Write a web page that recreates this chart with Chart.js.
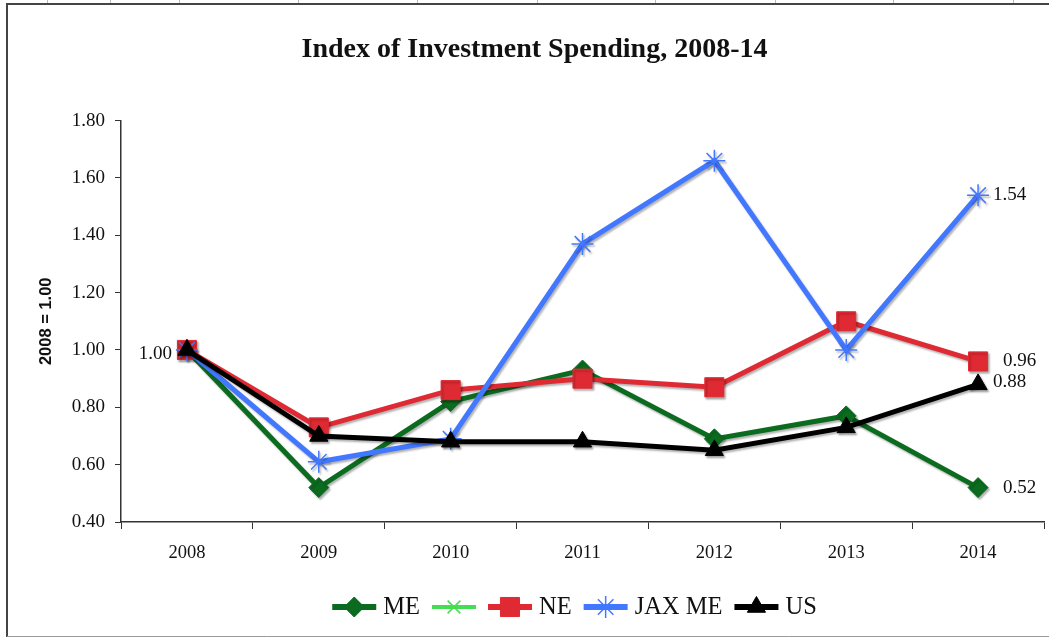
<!DOCTYPE html>
<html>
<head>
<meta charset="utf-8">
<title>Index of Investment Spending, 2008-14</title>
<script src="https://cdn.jsdelivr.net/npm/chart.js@4.4.1/dist/chart.umd.min.js"></script>
<style>
  html, body { margin: 0; padding: 0; background: #fff; }
  canvas { display: block; }
</style>
</head>
<body>
<canvas id="line-chart" width="1049" height="638"></canvas>
<script>
// data
const years = ['2008', '2009', '2010', '2011', '2012', '2013', '2014'];
const me_values  = [1.00, 0.52, 0.82, 0.93, 0.69, 0.77, 0.52];
const me2_values = [null, null, null, null, null, null, null]; // only shows up in the legend
const ne_values  = [1.00, 0.73, 0.86, 0.90, 0.87, 1.10, 0.96];
const jax_values = [1.00, 0.61, 0.69, 1.37, 1.66, 1.00, 1.54];
const us_values  = [1.00, 0.70, 0.68, 0.68, 0.65, 0.73, 0.88];
const yMin = 0.40, yMax = 1.80, yStep = 0.20;

const serif = "'Liberation Serif', 'Times New Roman', serif";

// white page, spreadsheet cells peeking out at the top, chart frame
const framePlugin = {
    id: 'frame',
    beforeDraw(chart){
        const ctx = chart.ctx;
        ctx.save();
        ctx.fillStyle = '#fff';
        ctx.fillRect(0, 0, chart.width, chart.height);
        ctx.strokeStyle = '#bbb';
        ctx.lineWidth = 1;
        for (const cx of [47, 110, 179, 298, 417, 537, 655, 775, 893, 1013]) {
            ctx.beginPath();
            ctx.moveTo(cx + 0.5, 0);
            ctx.lineTo(cx + 0.5, 3);
            ctx.stroke();
        }
        ctx.strokeStyle = '#444';
        ctx.lineWidth = 2;
        ctx.beginPath();
        ctx.moveTo(chart.width, 4);
        ctx.lineTo(7, 4);
        ctx.lineTo(7, 637);
        ctx.stroke();
        ctx.strokeStyle = '#999';
        ctx.lineWidth = 1;
        ctx.beginPath();
        ctx.moveTo(7, 636.5);
        ctx.lineTo(chart.width, 636.5);
        ctx.stroke();
        ctx.restore();
    }
};

// soft drop shadow under lines and markers
const shadowPlugin = {
    id: 'shadow',
    beforeDatasetDraw(chart){
        const ctx = chart.ctx;
        ctx.save();
        ctx.shadowColor = 'rgba(0, 0, 0, 0.3)';
        ctx.shadowOffsetX = 1.5;
        ctx.shadowOffsetY = 2;
        ctx.shadowBlur = 2;
    },
    afterDatasetDraw(chart){
        chart.ctx.restore();
    }
};

// value labels next to a few points
const valueLabels = [
    { series: 'US',     index: 0, align: 'right', dx: -15, dy: 4 },
    { series: 'JAX ME', index: 6, align: 'left',  dx: 15,  dy: 0 },
    { series: 'NE',     index: 6, align: 'left',  dx: 25,  dy: 0 },
    { series: 'US',     index: 6, align: 'left',  dx: 15,  dy: -2 },
    { series: 'ME',     index: 6, align: 'left',  dx: 25,  dy: 0 }
];
const labelPlugin = {
    id: 'valueLabels',
    afterDatasetsDraw(chart){
        const ctx = chart.ctx;
        ctx.save();
        ctx.font = '19px ' + serif;
        ctx.fillStyle = '#111';
        ctx.textBaseline = 'middle';
        for (const l of valueLabels) {
            const di = chart.data.datasets.findIndex(d => d.label === l.series);
            const pt = chart.getDatasetMeta(di).data[l.index];
            const v = chart.data.datasets[di].data[l.index];
            ctx.textAlign = l.align;
            ctx.fillText(v.toFixed(2), pt.x + l.dx, pt.y + l.dy);
        }
        ctx.restore();
    }
};

// legend with a short line through each marker, like the spreadsheet one
const legendPlugin = {
    id: 'lineLegend',
    afterDraw(chart){
        const ctx = chart.ctx;
        const lineLen = 44, gapText = 7, gapItem = 12;
        ctx.save();
        ctx.font = '24.5px ' + serif;
        const items = chart.data.datasets.map(ds => ({
            ds: ds,
            w: ds.label ? ctx.measureText(ds.label).width : 0
        }));
        let total = 0;
        items.forEach((it, i) => {
            total += lineLen + (it.w ? gapText + it.w : 0) + (i < items.length - 1 ? gapItem : 0);
        });
        const area = chart.chartArea;
        let x = (area.left + area.right) / 2 - 8 - total / 2;
        const y = chart.height - 31;
        for (const it of items) {
            const ds = it.ds;
            ctx.strokeStyle = ds.borderColor;
            ctx.fillStyle = ds.backgroundColor;
            ctx.lineWidth = ds.borderWidth + 1;
            ctx.beginPath();
            ctx.moveTo(x, y);
            ctx.lineTo(x + lineLen, y);
            ctx.stroke();
            ctx.lineWidth = ds.pointBorderWidth;
            Chart.helpers.drawPoint(ctx, {
                pointStyle: ds.pointStyle,
                radius: ds.pointRadius,
                rotation: 0,
                borderWidth: ds.pointBorderWidth
            }, x + lineLen / 2, y);
            x += lineLen;
            if (it.w) {
                ctx.fillStyle = '#111';
                ctx.textAlign = 'left';
                ctx.textBaseline = 'middle';
                ctx.fillText(ds.label, x + gapText, y + 1);
                x += gapText + it.w;
            }
            x += gapItem;
        }
        ctx.restore();
    }
};

var ctx = document.getElementById('line-chart').getContext('2d');
var myChart = new Chart(ctx, {
    type: 'line',
    data: {
        labels: years,
        datasets: [{
            label: 'ME',
            data: me_values,
            borderColor: '#0b6b1f',
            backgroundColor: '#0b6b1f',
            borderWidth: 5,
            pointStyle: 'rectRot',
            pointRadius: 10,
            pointBorderWidth: 1,
            order: 5
        }, {
            label: '',
            data: me2_values,
            borderColor: '#46dd55',
            backgroundColor: '#46dd55',
            borderWidth: 3,
            pointStyle: 'crossRot',
            pointRadius: 9,
            pointBorderWidth: 1.5,
            order: 4
        }, {
            label: 'NE',
            data: ne_values,
            borderColor: '#df2a33',
            backgroundColor: '#df2a33',
            borderWidth: 5,
            pointStyle: 'rect',
            pointRadius: 13.5,
            pointBorderWidth: 1,
            order: 3
        }, {
            label: 'JAX ME',
            data: jax_values,
            borderColor: '#4277ff',
            backgroundColor: '#4277ff',
            borderWidth: 5,
            pointStyle: 'star',
            pointRadius: 11,
            pointBorderWidth: 1.5,
            order: 2
        }, {
            label: 'US',
            data: us_values,
            borderColor: '#000',
            backgroundColor: '#000',
            borderWidth: 5,
            pointStyle: 'triangle',
            pointRadius: 10.5,
            pointBorderWidth: 1,
            order: 1
        }]
    },
    options: {
        responsive: false,
        animation: false,
        devicePixelRatio: 1,
        events: [],
        clip: false,
        layout: {
            autoPadding: false,
            padding: { left: 25, right: 5, top: 0, bottom: 66 }
        },
        elements: {
            line: { tension: 0 }
        },
        plugins: {
            legend: { display: false },
            tooltip: { enabled: false },
            title: {
                display: true,
                text: 'Index of Investment Spending, 2008-14',
                color: '#111',
                font: { family: serif, size: 28, weight: 'bold' },
                padding: { top: 33, bottom: 54 }
            }
        },
        scales: {
            x: {
                offset: true,
                grid: { offset: true, drawOnChartArea: false, tickLength: 7, color: '#333' },
                border: { color: '#333', width: 1.5 },
                ticks: {
                    color: '#111',
                    font: { family: serif, size: 18.5 },
                    padding: 13,
                    maxRotation: 0
                },
                afterFit: function(scale){ scale.height = 50; }
            },
            y: {
                min: yMin,
                max: yMax,
                grid: { drawOnChartArea: false, tickLength: 6, color: '#333' },
                border: { color: '#333', width: 1.5 },
                ticks: {
                    stepSize: yStep,
                    color: '#111',
                    font: { family: serif, size: 19 },
                    padding: 10,
                    callback: function(v){ return v.toFixed(2); }
                },
                title: {
                    display: true,
                    text: '2008 = 1.00',
                    color: '#111',
                    font: { family: "'Liberation Sans Narrow', 'Liberation Sans', sans-serif", size: 16.5, weight: 'bold' },
                    padding: { top: 12, bottom: 0 }
                },
                afterFit: function(scale){ scale.width = 96; }
            }
        }
    },
    plugins: [framePlugin, shadowPlugin, labelPlugin, legendPlugin]
});
</script>
</body>
</html>
